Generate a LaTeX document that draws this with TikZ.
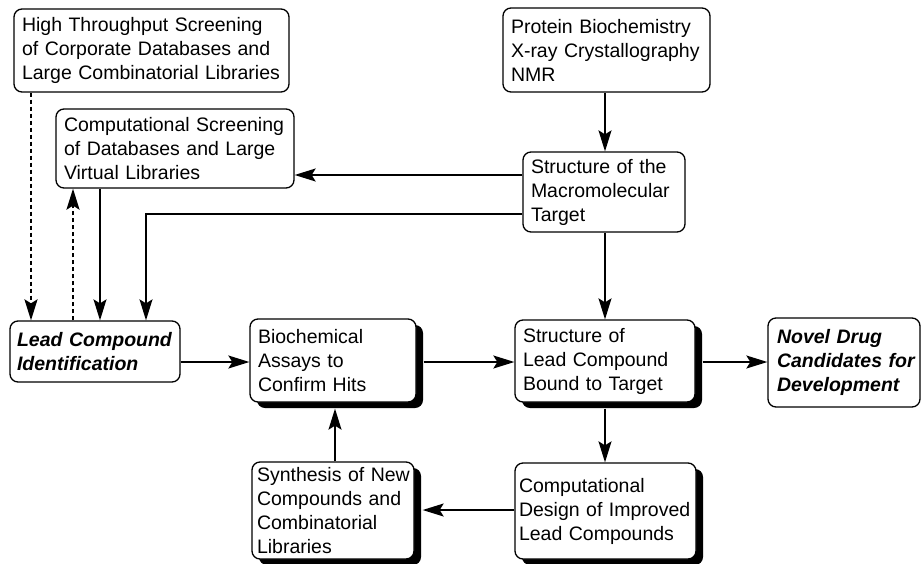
\documentclass[tikz,border=0pt]{standalone}
\usepackage{fontspec}
\setmainfont{Liberation Sans}
\usetikzlibrary{arrows.meta,shadows,calc}
\newcommand\oneline[1]{\mbox{#1}}
\tikzset{
  box/.style={draw=black, line width=1.3pt, fill=white, rounded corners=8pt,
    align=left, inner xsep=8pt, inner ysep=0pt,
    font=\fontsize{19.5}{24}\selectfont},
  shadowbox/.style={box, drop shadow={shadow xshift=7pt, shadow yshift=-6pt, fill=black, opacity=1}},
  arr/.style={line width=1.5pt, -{Stealth[length=21pt,width=13pt,inset=4pt]}},
  dasharr/.style={arr, line width=2.1pt, dash pattern=on 4.5pt off 2.5pt},
}
\begin{document}
\begin{tikzpicture}[x=1pt,y=-1pt]
\useasboundingbox (0,0) rectangle (921,563);
% nodes
\node[box, text width=259pt, minimum height=83pt] (hts) at (151.5,50.5)
  {\oneline{High Throughput Screening}\\\oneline{of Corporate Databases and}\\\oneline{Large Combinatorial Libraries}};
\node[box, text width=222pt, minimum height=79pt] (cs) at (175,148.5)
  {\oneline{Computational Screening}\\\oneline{of Databases and Large}\\\oneline{Virtual Libraries}};
\node[box, text width=191pt, minimum height=84pt] (prot) at (606.5,50)
  {\oneline{Protein Biochemistry}\\\oneline{X-ray Crystallography}\\NMR};
\node[box, text width=146pt, minimum height=80pt] (macro) at (604,192)
  {\oneline{Structure of the}\\Macromolecular\\Target};
\node[box, text width=156pt, inner xsep=7pt, minimum height=61pt] (lead) at (95,351.5)
  {\oneline{\textbf{\textit{Lead Compound}}}\\\textbf{\textit{Identification}}};
\node[shadowbox, text width=150pt, minimum height=83pt] (bio) at (333,360.5)
  {Biochemical\\\oneline{Assays to}\\\oneline{Confirm Hits}};
\node[shadowbox, text width=164pt, minimum height=82pt] (sl) at (605,361)
  {\oneline{Structure of}\\\oneline{Lead Compound}\\\oneline{Bound to Target}};
\node[box, text width=134pt, inner xsep=9pt, minimum height=89pt] (novel) at (844,362.5)
  {\oneline{\textbf{\textit{Novel Drug}}}\\\oneline{\textbf{\textit{Candidates for}}}\\\textbf{\textit{Development}}};
\node[shadowbox, text width=152pt, inner xsep=5pt, minimum height=97pt] (syn) at (333,510.5)
  {\oneline{Synthesis of New}\\\oneline{Compounds and}\\Combinatorial\\Libraries};
\node[shadowbox, text width=173pt, inner xsep=4pt, minimum height=96pt] (cd) at (605.5,511)
  {Computational\\\oneline{Design of Improved}\\\oneline{Lead Compounds}};
% helper coordinates
\coordinate (d1) at (31,0);
\coordinate (d2) at (73,0);
\coordinate (s1) at (100,0);
\coordinate (h1) at (0,175);
\coordinate (h2) at (0,214);
\coordinate (v1) at (605,0);
\coordinate (r1) at (0,362);
\coordinate (bx) at (335,0);
\coordinate (cy) at (0,510);
\coordinate (bend) at (146,214);
% connectors
\draw[dasharr] (hts.south -| d1) -- (lead.north -| d1);
\draw[dasharr] (lead.north -| d2) -- (cs.south -| d2);
\draw[arr] (cs.south -| s1) -- (lead.north -| s1);
\draw[arr] (macro.west |- h1) -- (cs.east |- h1);
\draw[arr] (macro.west |- h2) -- (bend) -- (lead.north -| bend);
\draw[arr] (prot.south -| v1) -- (macro.north -| v1);
\draw[arr] (macro.south -| v1) -- (sl.north -| v1);
\draw[arr] (lead.east |- r1) -- (bio.west |- r1);
\draw[arr] ([xshift=7pt]bio.east |- r1) -- (sl.west |- r1);
\draw[arr] ([xshift=7pt]sl.east |- r1) -- (novel.west |- r1);
\draw[arr] ([yshift=-6pt]sl.south -| v1) -- (cd.north -| v1);
\draw[arr] (cd.west |- cy) -- ([xshift=8pt]syn.east |- cy);
\draw[arr] (syn.north -| bx) -- ([yshift=-6pt]bio.south -| bx);
\end{tikzpicture}
\end{document}
